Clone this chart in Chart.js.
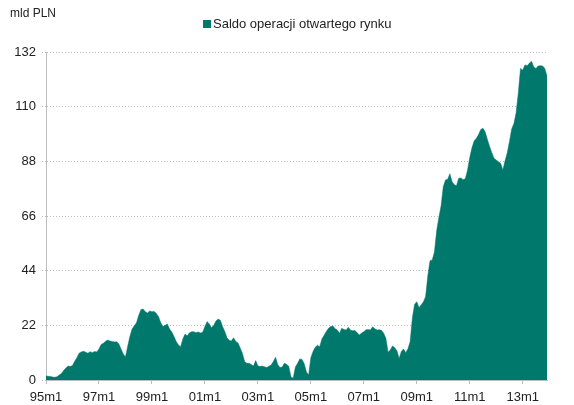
<!DOCTYPE html>
<html>
<head>
<meta charset="utf-8">
<script src="https://cdn.jsdelivr.net/npm/chart.js@4/dist/chart.umd.min.js"></script>
<style>
    html, body { margin: 0; padding: 0; background: #fff; }
    #wrap { width: 574px; height: 405px; }
</style>
</head>
<body>
<div id="wrap"><canvas id="saldoChart" width="574" height="405"></canvas></div>
<script>
    const startYear = 1995;
    const endYear = 2013;
    const seriesLabel = 'Saldo operacji otwartego rynku';
    const unitLabel = 'mld PLN';
    const tickLabels = ['95m1', '97m1', '99m1', '01m1', '03m1', '05m1', '07m1', '09m1', '11m1', '13m1'];
    const yTicks = [0, 22, 44, 66, 88, 110, 132];

    // monthly values, one row per year
    const saldo = [
        1.6, 1.5, 1.4, 1.2, 1.1, 1.3, 2.0, 2.6, 3.8, 4.8, 5.6, 5.4,
        5.8, 7.5, 9.0, 10.8, 11.3, 11.6, 11.2, 10.8, 11.4, 11.0, 11.5, 11.3,
        12.5, 14.3, 14.8, 15.6, 16.1, 15.7, 15.5, 15.3, 15.4, 14.5, 12.5, 10.5,
        9.3, 13.5, 17.5, 20.5, 21.8, 23.0, 26.0, 28.3, 28.6, 27.5, 27.0, 27.8,
        27.5, 27.6, 26.8, 25.5, 23.0, 21.5, 22.0, 22.5, 20.5, 19.3, 17.5, 15.5,
        14.1, 13.4, 16.5, 18.5, 17.8, 19.0, 19.4, 19.4, 19.0, 19.3, 18.9, 19.2,
        21.5, 23.5, 22.5, 21.0, 22.0, 23.7, 24.5, 24.0, 21.5, 19.5, 17.0, 16.0,
        15.7, 17.0, 15.5, 14.9, 12.9, 10.7, 7.4, 6.7, 6.7, 6.2, 5.6, 7.8,
        5.7, 5.4, 5.6, 5.3, 5.0, 5.5, 6.0, 7.4, 9.2, 6.2, 5.0, 5.2,
        6.7, 6.3, 5.5, 1.2, 0.7, 5.2, 6.7, 8.5, 8.3, 6.5, 3.2, 2.0,
        9.0, 11.5, 13.2, 14.0, 13.4, 16.5, 18.0, 19.5, 20.8, 21.5, 21.7, 20.6,
        20.1, 18.8, 20.8, 20.3, 20.1, 21.2, 20.0, 19.8, 19.9, 19.0, 18.1, 18.9,
        19.4, 20.2, 20.3, 20.1, 21.4, 20.6, 20.1, 20.2, 20.0, 18.8, 16.8, 11.2,
        12.1, 13.7, 13.0, 11.8, 8.7, 11.5, 12.5, 11.0, 12.6, 15.5, 25.0, 30.5,
        31.5, 29.2, 30.2, 31.5, 33.5, 42.0, 48.0, 48.3, 51.5, 60.0, 65.4, 70.0,
        77.8, 80.5, 80.8, 83.0, 79.8, 78.6, 78.2, 81.2, 81.3, 80.6, 81.0, 84.5,
        89.5, 93.5, 96.2, 97.3, 98.8, 100.8, 101.3, 99.8, 96.8, 94.0, 91.5, 89.2,
        88.5, 87.8, 87.2, 84.5, 88.2, 91.5, 96.0, 101.0, 103.2, 107.5, 115.5, 125.4,
        124.7, 126.8, 126.5, 127.5, 128.3, 126.0, 125.4, 126.4, 126.5, 126.4, 125.4, 122.3
    ];

    const months = [];
    for (let y = startYear; y <= endYear; y++) {
        for (let m = 1; m <= 12; m++) {
            months.push(String(y % 100).padStart(2, '0') + 'm' + m);
        }
    }

    const fillColor = '#00786c';
    const gridColor = '#bdbdbd';
    const textColor = '#222';
    const fontFamily = '"Liberation Sans", Arial, sans-serif';

    // "mld PLN" and the legend are drawn by hand so they sit where the original has them
    const headerPlugin = {
        id: 'header',
        afterDraw(chart) {
            const ctx = chart.ctx;
            ctx.save();
            ctx.fillStyle = textColor;
            ctx.font = '12px ' + fontFamily;
            ctx.textBaseline = 'middle';
            ctx.textAlign = 'left';
            ctx.fillText(unitLabel, 10, 14);

            ctx.fillStyle = fillColor;
            ctx.fillRect(203, 20, 8, 8);
            ctx.fillStyle = textColor;
            ctx.font = '13px ' + fontFamily;
            ctx.fillText(chart.data.datasets[0].label, 213, 24);
            ctx.restore();
        }
    };

    new Chart(document.getElementById('saldoChart'), {
        type: 'line',
        data: {
            labels: months,
            datasets: [{
                label: seriesLabel,
                data: saldo,
                fill: 'origin',
                backgroundColor: fillColor,
                borderColor: fillColor,
                borderWidth: 0.5,
                pointRadius: 0,
                tension: 0
            }]
        },
        options: {
            responsive: false,
            animation: false,
            layout: { padding: { top: 52, right: 27, bottom: 0, left: 0 } },
            plugins: {
                legend: { display: false },
                tooltip: { enabled: false }
            },
            scales: {
                x: {
                    type: 'category',
                    offset: false,
                    afterBuildTicks(scale) {
                        scale.ticks = scale.ticks.filter(t => tickLabels.includes(months[t.value]));
                    },
                    afterFit(scale) { scale.height = 25; },
                    ticks: {
                        autoSkip: false,
                        maxRotation: 0,
                        padding: 6,
                        color: textColor,
                        font: { family: fontFamily, size: 13 },
                        callback(value) { return months[value]; }
                    },
                    grid: {
                        drawOnChartArea: false,
                        drawTicks: true,
                        tickLength: 4,
                        color: gridColor
                    },
                    border: { display: true, color: gridColor, dash: [1, 2] }
                },
                y: {
                    min: 0,
                    max: 132,
                    afterBuildTicks(scale) {
                        scale.ticks = yTicks.map(v => ({ value: v }));
                    },
                    afterFit(scale) { scale.width = 46; },
                    ticks: {
                        padding: 6,
                        color: textColor,
                        font: { family: fontFamily, size: 13 }
                    },
                    grid: {
                        color: gridColor,
                        tickLength: 4,
                        tickBorderDash: [1, 2]
                    },
                    border: { display: true, color: gridColor, dash: [1, 2] }
                }
            }
        },
        plugins: [headerPlugin]
    });
</script>
</body>
</html>
